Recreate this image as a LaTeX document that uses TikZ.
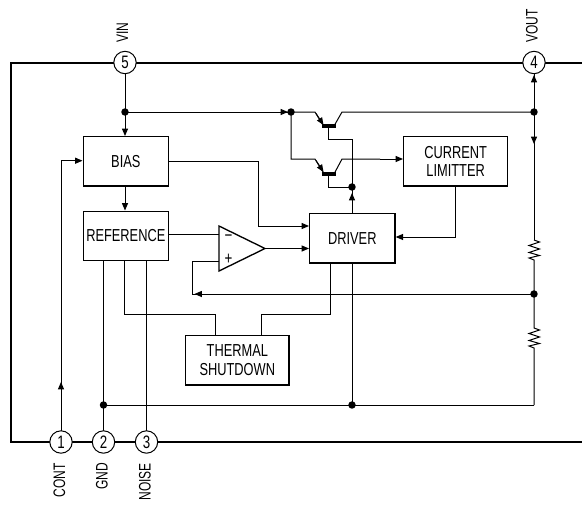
\documentclass[tikz,border=0pt]{standalone}
\usepackage{fontspec}
\setmainfont[FakeStretch=0.74]{Liberation Sans}
\newfontface\pinlabelfont[FakeStretch=0.72]{Liberation Sans}
\usetikzlibrary{arrows.meta}
\tikzset{
  wire/.style={line width=0.75pt,line join=miter},
  tipped/.style={wire,-{Stealth[inset=0pt,length=5.5pt,width=4.5pt]}},
  frameline/.style={line width=1.5pt,line join=miter},
  block/.style={draw,line width=1pt,anchor=north west,align=center,inner sep=0pt,
     font=\fontsize{13}{13.9}\selectfont},
  pin/.style={circle,draw,fill=white,line width=0.75pt,minimum size=16.8pt,inner sep=0pt,
     font=\fontsize{13.5}{13.5}\selectfont},
  pinlabel/.style={rotate=90,inner sep=0pt,font=\pinlabelfont\fontsize{12.5}{12.5}\selectfont},
  dot/.style={circle,fill=black,minimum size=5.6pt,inner sep=0pt},
  bar/.style={line width=2.4pt},
  sign/.style={inner sep=0pt,font=\fontsize{13.5}{13.5}\selectfont}
}
\begin{document}
\begin{tikzpicture}[x=0.75pt,y=-0.75pt]
\useasboundingbox (0,0) rectangle (582,504);
% package outline
\coordinate (frTR) at (582,62.5);
\coordinate (frTL) at (11,62.5);
\coordinate (frBL) at (11,442);
\coordinate (frBR) at (582,442);
\draw[frameline] (frTR) -- (frTL) -- (frBL) -- (frBR);
% blocks
\node[block,minimum width=64pt,minimum height=37pt] (bias) at (82.5,136) {BIAS};
\node[block,minimum width=64pt,minimum height=37pt] (ref) at (82.5,210.5) {REFERENCE};
\node[block,minimum width=64pt,minimum height=37pt] (drv) at (309,213) {DRIVER};
\node[block,minimum width=78pt,minimum height=37pt] (lim) at (403,136) {CURRENT\\LIMITTER};
\node[block,minimum width=77.5pt,minimum height=37pt] (thm) at (185,335) {THERMAL\\SHUTDOWN};
% pins
\coordinate (p5) at (125,62.5);
\coordinate (p4) at (534,62.5);
\coordinate (p1) at (61,442);
\coordinate (p2) at (103.5,442);
\coordinate (p3) at (146.5,442);
% junctions
\coordinate (j5) at (125,112);
\coordinate (jb) at (291,112);
\coordinate (jo) at (534,112);
\coordinate (jf) at (534,294);
\coordinate (jd) at (352,187);
\coordinate (jg) at (103.5,405);
\coordinate (jh) at (352,405);
\coordinate (jr) at (534,405);
% VIN rail
\draw[wire] (p5) -- (j5);
\draw[tipped] (j5) -- (125,136);
\draw[wire] (j5) -- (jb);
\draw[tipped] (j5) -- (288,112);
\draw[tipped] (bias.south -| 125,185) -- (125,210.5);
% transistors
\draw[wire] (jb) -- (315,112) -- (323,125);
\draw[tipped] (316,113.5) -- (323.5,125);
\draw[bar] (321.5,126) -- (336,126);
\draw[wire] (334,126) -- (342,112) -- (jo);
\draw[wire] (328.5,126) -- (328.5,139) -- (352,139) -- (jd);
\draw[wire] (jb) -- (291,159) -- (315,159) -- (323,172);
\draw[tipped] (316,160.5) -- (323.5,172);
\draw[bar] (321.5,174) -- (336,174);
\draw[wire] (334,174) -- (342,159) -- (380,159);
\draw[tipped] (380,159) -- (lim.west |- 0,159);
\draw[wire] (328.5,174) -- (328.5,187) -- (jd);
\draw[wire] (drv.north -| 352,0) -- (jd);
\draw[tipped] (352,201) -- (352,193);
% current limiter feedback
\draw[wire] (lim.south -| 455,0) -- (455,237) -- (410,237);
\draw[tipped] (410,237) -- (drv.east |- 0,237);
% VOUT rail
\draw[wire] (p4) -- (534,240);
\draw[tipped] (534,90) -- (534,75);
\draw[tipped] (534,125) -- (534,144);
\draw[wire] (534,240) -- (539.5,242) -- (529,245.5) -- (539.5,249) -- (529,252.5) -- (539.5,255.5) -- (529,258) -- (534,260) -- (jf);
\draw[wire] (jf) -- (534,328) -- (539.5,330) -- (529,333.5) -- (539.5,337) -- (529,340.5) -- (539.5,343.5) -- (529,346) -- (534,348) -- (jr);
% ground rail
\draw[wire] (jg) -- (jr);
\draw[wire] (ref.south -| 103.5,0) -- (p2);
\draw[wire] (ref.south -| 146.5,0) -- (p3);
\draw[wire] (drv.south -| 352,0) -- (jh);
% control
\draw[wire] (p1) -- (61,160.7) -- (70,160.7);
\draw[tipped] (70,160.7) -- (bias.west |- 0,160.7);
\draw[tipped] (61,395) -- (61,382);
% bias to driver
\draw[wire] (bias.east |- 0,161) -- (258.5,161) -- (258.5,226) -- (295,226);
\draw[tipped] (295,226) -- (drv.west |- 0,226);
% op amp
\coordinate (oa1) at (219,226);
\coordinate (oa2) at (219,271);
\coordinate (oa3) at (265,248.5);
\draw[line width=1pt,line join=miter,fill=white] (oa1) -- (oa3) -- (oa2) -- cycle;
\node[sign] (minus) at (228.5,238) {−};
\node[sign] (plus) at (228.5,259) {+};
\draw[wire] (ref.east |- 0,234.5) -- (219,234.5);
\draw[wire] (oa3) -- (295,248.5);
\draw[tipped] (295,248.5) -- (drv.west |- 0,248.5);
\draw[wire] (jf) -- (192,294) -- (192,261.7) -- (219,261.7);
\draw[tipped] (205,294) -- (194.5,294);
% thermal shutdown
\draw[wire] (ref.south -| 124.5,0) -- (124.5,314) -- (215,314) -- (thm.north -| 215,0);
\draw[wire] (drv.south -| 330,0) -- (330,314) -- (261,314) -- (thm.north -| 261,0);
% dots
\foreach \c/\n in {j5/d1,jb/d2,jo/d3,jf/d4,jd/d5,jg/d6,jh/d7} \node[dot] (\n) at (\c) {};
% pin circles
\node[pin] (n5) at (p5) {5};
\node[pin] (n4) at (p4) {4};
\node[pin] (n1) at (p1) {1};
\node[pin] (n2) at (p2) {2};
\node[pin] (n3) at (p3) {3};
% pin labels
\node[pinlabel,anchor=mid west] (lvin) at (124.5,43) {VIN};
\node[pinlabel,anchor=mid west] (lvout) at (534,43) {VOUT};
\node[pinlabel,anchor=mid east] (lcont) at (61.5,463) {CONT};
\node[pinlabel,anchor=mid east] (lgnd) at (104,463) {GND};
\node[pinlabel,anchor=mid east] (lnoise) at (147,463) {NOISE};
\end{tikzpicture}
\end{document}
